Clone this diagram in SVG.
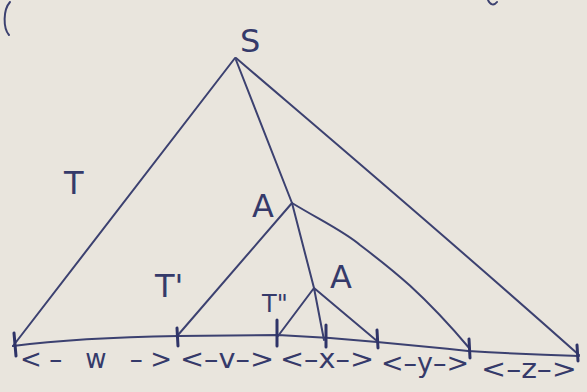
<svg xmlns="http://www.w3.org/2000/svg" width="587" height="392" viewBox="0 0 587 392">
<style>
.ink{fill:none;stroke:#3c4170;stroke-width:2;stroke-linecap:round;stroke-linejoin:round}
.tick{fill:none;stroke:#2f3468;stroke-width:3;stroke-linecap:round}
.lbl{font-family:"DejaVu Sans","Liberation Sans",sans-serif;fill:#353a6a}
.big{font-size:32px}
.sm{font-size:24px}
.seg{font-size:26px}
</style>
<rect width="587" height="392" fill="#e9e5dd"/>
<path class="ink" d="M10,2 C3,10 3,28 9,35"/>
<path class="ink" d="M488,0 C490,5 494,6 497,2"/>
<g id="tree">
<path class="ink" d="M235,58 L13,346"/>
<path class="ink" d="M236,58 C320,130 450,240 579,355"/>
<path class="ink" d="M13,346 C60,340 120,337 178,336 L278,335 L330,338 L377,342 C420,346 440,348 468,351 C500,353 540,355 579,356"/>
<path class="ink" d="M236,60 L292,203 L314,288"/>
<path class="ink" d="M292,203 L178,335"/>
<path class="ink" d="M292,203 C320,220 345,232 360,245 C390,268 420,290 470,349"/>
<path class="ink" d="M314,288 L278,336 M314,288 L324,340 M314,288 L377,341"/>
</g>
<g id="ticks">
<path class="tick" d="M14,333 L16,356 M177,328 L178,346 M277,320 L277,346 M326,325 L326,347 M377,330 L378,348 M469,339 L470,358 M577,345 L578,361"/>
</g>
<g id="labels">
<text class="lbl big" x="240" y="52">S</text>
<text class="lbl big" x="64" y="194">T</text>
<text class="lbl big" x="252" y="217">A</text>
<text class="lbl big" x="155" y="297">T'</text>
<text class="lbl big" x="330" y="288">A</text>
<text class="lbl sm" x="262" y="312">T"</text>
<text class="lbl seg" x="20" y="368" textLength="152" lengthAdjust="spacing">&lt;–  w  –&gt;</text>
<text class="lbl seg" x="180" y="368" textLength="94" lengthAdjust="spacingAndGlyphs">&lt;–v–&gt;</text>
<text class="lbl seg" x="280" y="368" textLength="94" lengthAdjust="spacingAndGlyphs">&lt;–x–&gt;</text>
<text class="lbl seg" x="381" y="372" textLength="88" lengthAdjust="spacingAndGlyphs">&lt;–y–&gt;</text>
<text class="lbl seg" x="481" y="378" textLength="96" lengthAdjust="spacingAndGlyphs">&lt;–z–&gt;</text>
</g>
</svg>
